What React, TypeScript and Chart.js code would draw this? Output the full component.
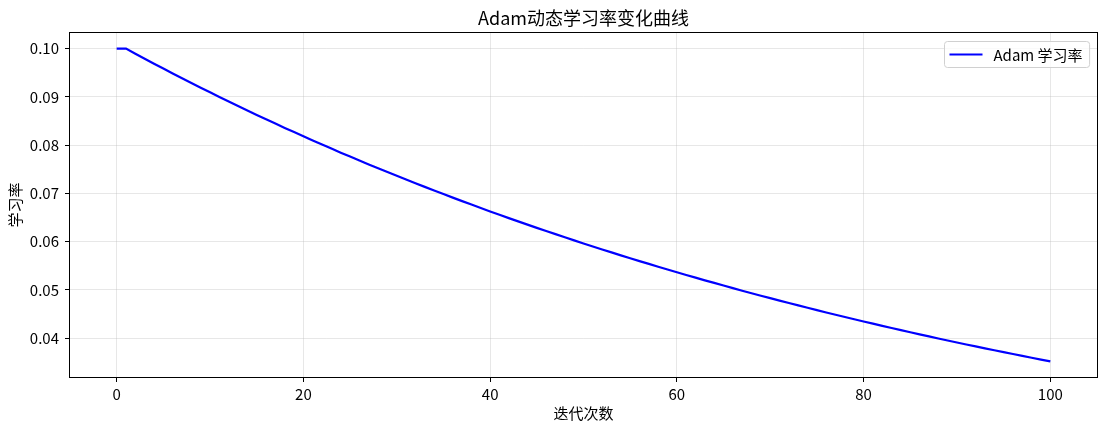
import React, { useEffect, useRef } from "react";
import { Chart, registerables } from "chart.js";

Chart.register(...registerables);

const chartTitle = "Adam动态学习率变化曲线";
const xAxisLabel = "迭代次数";
const yAxisLabel = "学习率";
const seriesLabel = "Adam 学习率";

const iterations = [
  0, 1, 2, 3, 4, 5, 6, 7, 8, 9,
  10, 11, 12, 13, 14, 15, 16, 17, 18, 19,
  20, 21, 22, 23, 24, 25, 26, 27, 28, 29,
  30, 31, 32, 33, 34, 35, 36, 37, 38, 39,
  40, 41, 42, 43, 44, 45, 46, 47, 48, 49,
  50, 51, 52, 53, 54, 55, 56, 57, 58, 59,
  60, 61, 62, 63, 64, 65, 66, 67, 68, 69,
  70, 71, 72, 73, 74, 75, 76, 77, 78, 79,
  80, 81, 82, 83, 84, 85, 86, 87, 88, 89,
  90, 91, 92, 93, 94, 95, 96, 97, 98, 99,
  100,
];

const learningRate = [
  0.1, 0.1, 0.09895, 0.09791, 0.09688, 0.09587, 0.09486, 0.09386, 0.09288, 0.0919,
  0.09094, 0.08998, 0.08904, 0.0881, 0.08718, 0.08626, 0.08536, 0.08446, 0.08357, 0.0827,
  0.08183, 0.08097, 0.08012, 0.07928, 0.07844, 0.07762, 0.07681, 0.076, 0.0752, 0.07441,
  0.07363, 0.07286, 0.07209, 0.07134, 0.07059, 0.06985, 0.06911, 0.06839, 0.06767, 0.06696,
  0.06625, 0.06556, 0.06487, 0.06419, 0.06352, 0.06285, 0.06219, 0.06154, 0.06089, 0.06025,
  0.05962, 0.05899, 0.05837, 0.05776, 0.05715, 0.05655, 0.05596, 0.05537, 0.05479, 0.05421,
  0.05365, 0.05308, 0.05252, 0.05197, 0.05143, 0.05089, 0.05035, 0.04982, 0.0493, 0.04878,
  0.04827, 0.04776, 0.04726, 0.04677, 0.04628, 0.04579, 0.04531, 0.04483, 0.04436, 0.0439,
  0.04344, 0.04298, 0.04253, 0.04208, 0.04164, 0.0412, 0.04077, 0.04034, 0.03992, 0.0395,
  0.03908, 0.03867, 0.03827, 0.03787, 0.03747, 0.03708, 0.03669, 0.0363, 0.03592, 0.03554,
  0.03517,
];

const xTicks = [0, 20, 40, 60, 80, 100];
const yTicks = [0.04, 0.05, 0.06, 0.07, 0.08, 0.09, 0.1];

const FONT = '"Noto Sans CJK SC", "Noto Sans", sans-serif';
const GRID = "rgba(176,176,176,0.3)";

export default function App() {
  const ref = useRef<HTMLCanvasElement | null>(null);

  useEffect(() => {
    document.body.style.margin = "0";
    const canvas = ref.current;
    if (!canvas) return;

    const frame = {
      id: "frame",
      afterDatasetsDraw(chart: any) {
        const { ctx, chartArea: a } = chart;
        ctx.save();
        ctx.strokeStyle = "#000";
        ctx.lineWidth = 1;
        const l = Math.round(a.left) - 0.5;
        const t = Math.round(a.top) - 0.5;
        const r = Math.round(a.right) + 0.5;
        const b = Math.round(a.bottom) + 0.5;
        ctx.strokeRect(l, t, r - l, b - t);
        ctx.restore();
      },
    };

    const titlePlugin = {
      id: "axesTitle",
      afterDraw(chart: any) {
        const { ctx, chartArea: a } = chart;
        ctx.save();
        ctx.font = `18px ${FONT}`;
        ctx.fillStyle = "#000";
        ctx.textAlign = "center";
        ctx.textBaseline = "middle";
        ctx.fillText(chartTitle, (a.left + a.right) / 2, 18.5);
        ctx.restore();
      },
    };

    const legendBox = {
      id: "legendBox",
      afterDraw(chart: any) {
        const { ctx, chartArea: a } = chart;
        const ds = chart.data.datasets[0];
        ctx.save();
        ctx.font = `15px ${FONT}`;
        const tw = ctx.measureText(ds.label).width;
        const h = 26;
        const padL = 5;
        const lineLen = 33;
        const gap = 11;
        const padR = 7;
        const w = padL + lineLen + gap + tw + padR;
        const x = Math.round(a.right - 8 - w) + 0.5;
        const y = Math.round(a.top + 8) + 0.5;
        const r = 3;
        ctx.beginPath();
        ctx.moveTo(x + r, y);
        ctx.lineTo(x + w - r, y);
        ctx.arcTo(x + w, y, x + w, y + r, r);
        ctx.lineTo(x + w, y + h - r);
        ctx.arcTo(x + w, y + h, x + w - r, y + h, r);
        ctx.lineTo(x + r, y + h);
        ctx.arcTo(x, y + h, x, y + h - r, r);
        ctx.lineTo(x, y + r);
        ctx.arcTo(x, y, x + r, y, r);
        ctx.closePath();
        ctx.fillStyle = "rgba(255,255,255,0.8)";
        ctx.fill();
        ctx.strokeStyle = "#d0d0d0";
        ctx.lineWidth = 1;
        ctx.stroke();
        ctx.beginPath();
        ctx.strokeStyle = ds.borderColor;
        ctx.lineWidth = 2;
        ctx.moveTo(x + padL, y + h / 2);
        ctx.lineTo(x + padL + lineLen, y + h / 2);
        ctx.stroke();
        ctx.fillStyle = "#000";
        ctx.textBaseline = "middle";
        ctx.textAlign = "left";
        ctx.fillText(ds.label, x + padL + lineLen + gap, y + h / 2 + 1);
        ctx.restore();
      },
    };

    const points = iterations.map((it, i) => ({ x: it, y: learningRate[i] }));

    const chart = new Chart(canvas, {
      type: "line",
      data: {
        datasets: [
          {
            label: seriesLabel,
            data: points,
            borderColor: "#0000ff",
            borderWidth: 2.2,
            pointRadius: 0,
            tension: 0,
            fill: false,
          },
        ],
      },
      options: {
        responsive: false,
        animation: false,
        layout: { padding: { left: 0, right: 8, top: 33, bottom: 0 } },
        plugins: {
          legend: { display: false },
          tooltip: { enabled: false },
          title: { display: false },
        },
        scales: {
          x: {
            type: "linear",
            min: -5,
            max: 105,
            afterBuildTicks(scale: any) {
              scale.ticks = xTicks.map((v) => ({ value: v }));
            },
            afterFit(scale: any) {
              scale.height = 55;
            },
            ticks: {
              color: "#000",
              font: { family: FONT, size: 15 },
              padding: 3,
              maxRotation: 0,
              callback: (v: any) => String(v),
            },
            grid: {
              color: GRID,
              lineWidth: 1,
              tickColor: "#000",
              tickLength: 5,
              tickWidth: 1,
            },
            border: { display: false },
            title: {
              display: true,
              text: xAxisLabel,
              color: "#000",
              font: { family: FONT, size: 15, lineHeight: 1.2 },
              padding: { top: 0, bottom: 10 },
            },
          },
          y: {
            type: "linear",
            min: 0.03193,
            max: 0.10324,
            afterBuildTicks(scale: any) {
              scale.ticks = yTicks.map((v) => ({ value: v }));
            },
            afterFit(scale: any) {
              scale.width = 70;
            },
            ticks: {
              color: "#000",
              font: { family: FONT, size: 15 },
              padding: 6,
              callback: (v: any) => Number(v).toFixed(2),
            },
            grid: {
              color: GRID,
              lineWidth: 1,
              tickColor: "#000",
              tickLength: 5,
              tickWidth: 1,
            },
            border: { display: false },
            title: {
              display: true,
              text: yAxisLabel,
              color: "#000",
              font: { family: FONT, size: 15, lineHeight: 1.2 },
              padding: { top: 6, bottom: 0 },
            },
          },
        },
      },
      plugins: [frame, legendBox, titlePlugin],
    } as any);

    return () => chart.destroy();
  }, []);

  return (
    <div style={{ width: 1105, height: 432 }}>
      <canvas ref={ref} width={1105} height={432} style={{ display: "block" }} />
    </div>
  );
}
